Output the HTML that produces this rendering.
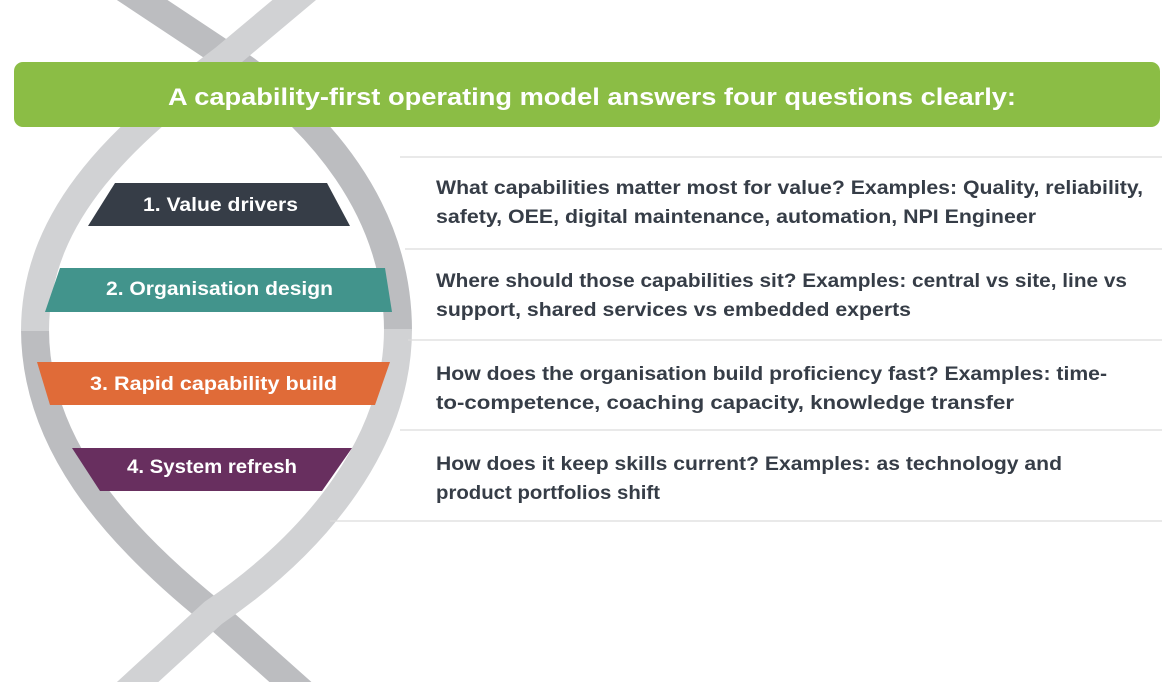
<!DOCTYPE html>
<html><head><meta charset="utf-8"><style>
html,body{margin:0;padding:0;background:#fff;width:1176px;height:682px;overflow:hidden}
svg{display:block}
text{font-family:"Liberation Sans",sans-serif;font-weight:bold}
</style></head><body>
<svg width="1176" height="682" viewBox="0 0 1176 682" xmlns="http://www.w3.org/2000/svg">
<!-- helix -->
<g fill="none" stroke-width="28" stroke-linecap="butt">
<path d="M100,-28 L225,55 C320,118 398,210 398,331" stroke="#bcbdc0"/>
<path d="M35,329 C35,440 110,530 213,613 L305,695" stroke="#bcbdc0"/>
<path d="M330,-30 L225,58 C130,130 35,210 35,331" stroke="#d1d2d4"/>
<path d="M398,329 C398,440 320,540 213,613 L118,700" stroke="#d1d2d4"/>
</g>
<!-- header -->
<rect x="14" y="62" width="1146" height="65" rx="9" fill="#8bbd45"/>
<text x="592" y="105" fill="#fff" font-size="24" text-anchor="middle" textLength="848" lengthAdjust="spacingAndGlyphs">A capability-first operating model answers four questions clearly:</text>
<!-- separators -->
<g stroke="#dcdcdc" stroke-width="1.2">
<line x1="400" y1="157" x2="1162" y2="157"/>
<line x1="405" y1="249" x2="1162" y2="249"/>
<line x1="408" y1="340" x2="1162" y2="340"/>
<line x1="400" y1="430" x2="1162" y2="430"/>
<line x1="330" y1="521" x2="1162" y2="521"/>
</g>
<!-- bands -->
<polygon points="115,183 327,183 350,226 88,226" fill="#363d47"/>
<polygon points="60,268 385,268 392,312 45,312" fill="#42948c"/>
<polygon points="37,362 390,362 375,405 50,405" fill="#e06b38"/>
<polygon points="72,448 352,448 322,491 100,491" fill="#682f5f"/>
<g fill="#fff" font-size="19">
<text x="143" y="211" textLength="155" lengthAdjust="spacingAndGlyphs">1. Value drivers</text>
<text x="106" y="295" textLength="227" lengthAdjust="spacingAndGlyphs">2. Organisation design</text>
<text x="90" y="390" textLength="247" lengthAdjust="spacingAndGlyphs">3. Rapid capability build</text>
<text x="127" y="473" textLength="170" lengthAdjust="spacingAndGlyphs">4. System refresh</text>
</g>
<g fill="#363d47" font-size="19">
<text x="436" y="194" textLength="707" lengthAdjust="spacingAndGlyphs">What capabilities matter most for value? Examples: Quality, reliability,</text>
<text x="436" y="223" textLength="600" lengthAdjust="spacingAndGlyphs">safety, OEE, digital maintenance, automation, NPI Engineer</text>
<text x="436" y="287" textLength="691" lengthAdjust="spacingAndGlyphs">Where should those capabilities sit? Examples: central vs site, line vs</text>
<text x="436" y="316" textLength="475" lengthAdjust="spacingAndGlyphs">support, shared services vs embedded experts</text>
<text x="436" y="380" textLength="671" lengthAdjust="spacingAndGlyphs">How does the organisation build proficiency fast? Examples: time-</text>
<text x="436" y="409" textLength="578" lengthAdjust="spacingAndGlyphs">to-competence, coaching capacity, knowledge transfer</text>
<text x="436" y="470" textLength="626" lengthAdjust="spacingAndGlyphs">How does it keep skills current? Examples: as technology and</text>
<text x="436" y="499" textLength="224" lengthAdjust="spacingAndGlyphs">product portfolios shift</text>
</g>
</svg>
</body></html>
